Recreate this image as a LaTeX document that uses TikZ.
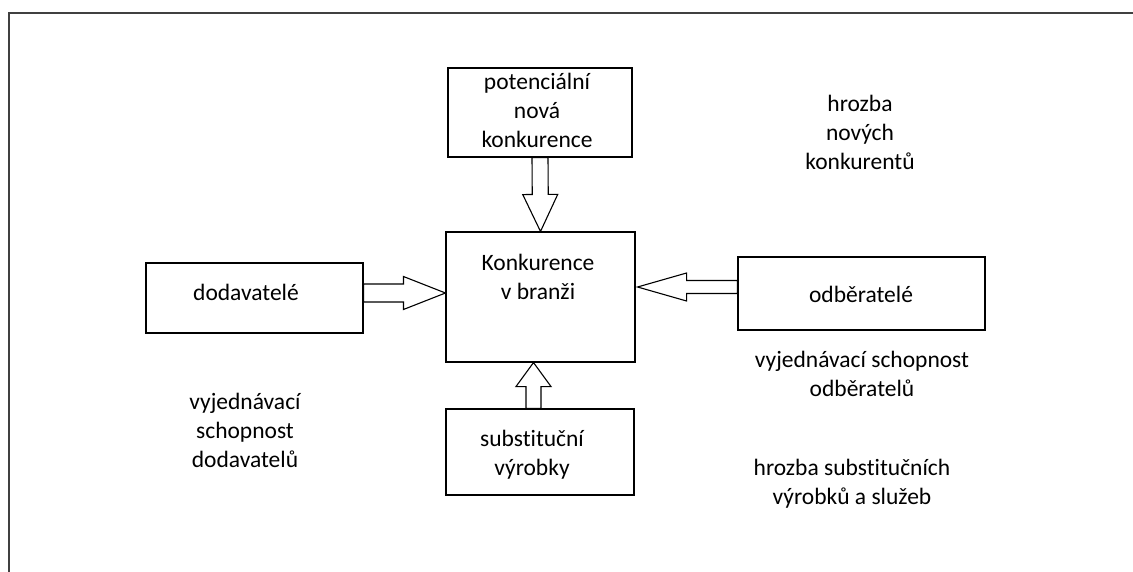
\documentclass[tikz,border=0pt]{standalone}
\usepackage{fontspec}
\setmainfont{Carlito}[Ligatures=NoCommon]
\usetikzlibrary{calc}

\tikzset{
	box/.style={draw, line width=1.1pt, rectangle, inner sep=0pt},
	txt/.style={align=center, inner sep=0pt, font=\fontsize{23.5}{29}\selectfont},
	blockarr/.style={draw, fill=white, line width=1.1pt, line join=miter},
	frame/.style={draw=black!75, line width=2pt}
}

% block arrow: start, tip, half shaft, half head, head length
\newcommand{\blockarrow}[5]{%
	\coordinate (ba-base) at ($(#2)!#5!(#1)$);
	\draw[blockarr] ($(#1)!#3!90:(#2)$) -- ($(ba-base)!#3!90:(#2)$) -- ($(ba-base)!#4!90:(#2)$)
		-- (#2) -- ($(ba-base)!#4!-90:(#2)$) -- ($(ba-base)!#3!-90:(#2)$) -- ($(#1)!#3!-90:(#2)$) -- cycle;}

\begin{document}
\begin{tikzpicture}[x=1pt,y=-1pt]
	\useasboundingbox (0,0) rectangle (1133,572);
	\draw[frame] (1133,13) -- (9,13) -- (9,572);
	
	% boxes
	\node[box, minimum width=184, minimum height=89] (pot) at (540,112.5) {};
	\node[box, minimum width=189, minimum height=130] (kon) at (540.5,297) {};
	\node[box, minimum width=217, minimum height=70] (dod) at (254.5,298) {};
	\node[box, minimum width=247, minimum height=73] (odb) at (861.5,293.5) {};
	\node[box, minimum width=188, minimum height=86] (sub) at (540,452) {};
	
	\node[txt] (pot-t) at (537,110) {potenciální\\nová\\konkurence};
	\node[txt] (kon-t) at (538,276.5) {Konkurence\\v branži};
	\node[txt] (dod-t) at (246,292) {dodavatelé};
	\node[txt] (odb-t) at (861,294) {odběratelé};
	\node[txt] (sub-t) at (532,455) {substituční\\výrobky};
	
	% forces
	\node[txt] (hroz-nov) at (860,132) {hrozba\\nových\\konkurentů};
	\node[txt] (vyj-odb) at (862,374) {vyjednávací schopnost\\odběratelů};
	\node[txt] (hroz-sub) at (852,484) {hrozba substitučních\\výrobků a služeb};
	\node[txt] (vyj-dod) at (245,430.5) {vyjednávací\\schopnost\\dodavatelů};
	
	% arrows
	\coordinate (dod-out) at ($(dod.east)+(0,-5)$);
	\coordinate (kon-inl) at ($(kon.west)+(0,-4)$);
	\coordinate (odb-out) at ($(odb.west)+(0,-6.5)$);
	\coordinate (kon-inr) at ($(kon.east)+(2,-10)$);
	\coordinate (sub-out) at ($(sub.north)+(-6.5,0)$);
	\coordinate (kon-inb) at ($(kon.south)+(-7,0)$);
	
	\blockarrow{pot.south}{kon.north}{8pt}{17.5pt}{37pt}
	\blockarrow{dod-out}{kon-inl}{9pt}{16.5pt}{42pt}
	\blockarrow{odb-out}{kon-inr}{6.5pt}{14pt}{49pt}
	\blockarrow{sub-out}{kon-inb}{7.5pt}{17.5pt}{24pt}
\end{tikzpicture}
\end{document}
